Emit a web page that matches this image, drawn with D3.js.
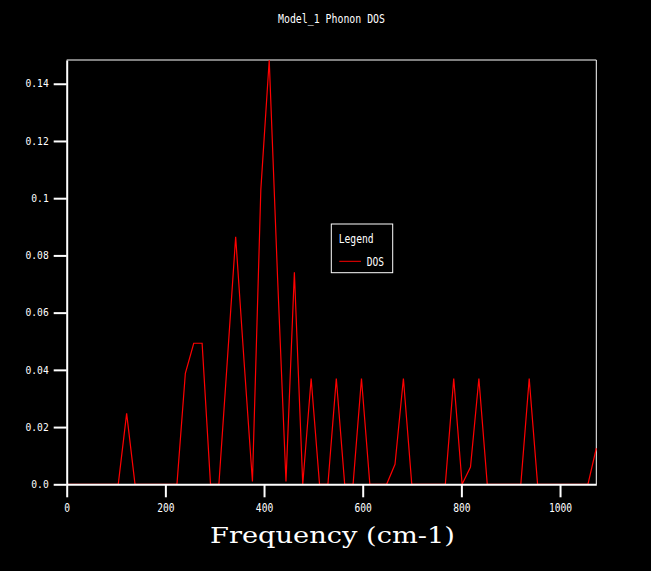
<html>
<head>
    <meta charset="utf-8">
    <style>
        body { margin:0; background:#000; }
    </style>
</head>
<body>
<script src="https://cdn.jsdelivr.net/npm/d3@7"></script>
<script>
    // frequency grid (cm-1) and DOS values
    var freq = [2.5, 19.5, 36.5, 53.5, 70.5, 87.5, 104.5, 121.5, 138.5, 155.5,
                172.5, 189.5, 206.5, 223.5, 240.5, 257.5, 274.5, 291.5, 308.5, 325.5,
                342.5, 359.5, 376.5, 393.5, 410.5, 427.5, 444.5, 461.5, 478.5, 495.5,
                512.5, 529.5, 546.5, 563.5, 580.5, 597.5, 614.5, 631.5, 648.5, 665.5,
                682.5, 699.5, 716.5, 733.5, 750.5, 767.5, 784.5, 801.5, 818.5, 835.5,
                852.5, 869.5, 886.5, 903.5, 920.5, 937.5, 954.5, 971.5, 988.5, 1005.5,
                1022.5, 1039.5, 1056.5, 1073.5];
    var dos = [0, 0, 0, 0, 0, 0, 0, 0.0248, 0, 0,
               0, 0, 0, 0, 0.0388, 0.0493, 0.0493, 0, 0, 0.043,
               0.0865, 0.043, 0.001, 0.103, 0.1483, 0.072, 0.001, 0.0741, 0, 0.037,
               0, 0, 0.037, 0, 0, 0.037, 0, 0, 0, 0.007,
               0.037, 0, 0, 0, 0, 0, 0.037, 0, 0.006, 0.037,
               0, 0, 0, 0, 0, 0.037, 0, 0, 0, 0,
               0, 0, 0, 0.0126];
    var xTicks = [0, 200, 400, 600, 800, 1000];
    var yTicks = [0, 0.02, 0.04, 0.06, 0.08, 0.1, 0.12, 0.14];
    var yTickLabels = ["0.0", "0.02", "0.04", "0.06", "0.08", "0.1", "0.12", "0.14"];

    var width = 651, height = 571;
    var pL = 66.7, pR = 596.3, pT = 60, pB = 484.3;   // plot box
    var mono = "DejaVu Sans Mono";

    var svg = d3.select("body").append("svg")
                .attr("width", width)
                .attr("height", height)
                .style("background", "#000");

    var x = d3.scaleLinear().domain([0, d3.max(freq)]).range([pL, pR]);
    var y = d3.scaleLinear().domain([0, d3.max(dos)]).range([pB, pT]);

    // top + right frame
    svg.append("path")
       .attr("d", "M" + pL + "," + pT + "H" + pR + "V" + pB)
       .attr("fill", "none")
       .attr("stroke", "#fff")
       .attr("stroke-width", 1);

    // the DOS curve
    var pts = freq.map((f, i) => [f, dos[i]]);
    svg.append("path")
       .datum(pts)
       .attr("fill", "none")
       .attr("stroke", "#f00")
       .attr("stroke-width", 1.2)
       .attr("d", d3.line().x(d => x(d[0])).y(d => y(d[1])));

    // axes
    var gx = svg.append("g")
                .attr("transform", "translate(0," + pB + ")")
                .call(d3.axisBottom(x).tickValues(xTicks).tickSize(13).tickSizeOuter(0).tickPadding(7)
                      .tickFormat(d3.format("d")));
    var gy = svg.append("g")
                .attr("transform", "translate(" + pL + ",0)")
                .call(d3.axisLeft(y).tickValues(yTicks).tickSize(13).tickSizeOuter(0).tickPadding(5)
                      .tickFormat((d, i) => yTickLabels[i]));

    [gx, gy].forEach(function(g) {
        g.select(".domain").attr("stroke", "#fff").attr("stroke-width", 2);
        g.selectAll(".tick line").attr("stroke", "#fff").attr("stroke-width", 2);
        g.selectAll(".tick text")
         .attr("fill", "#fff")
         .attr("font-family", mono)
         .attr("font-size", 10)
         .attr("lengthAdjust", "spacingAndGlyphs")
         .attr("textLength", function() { return this.textContent.length * 5.8; });
    });
    gx.selectAll(".tick text").attr("font-size", 11.5);

    // title
    svg.append("text")
       .attr("x", (pL + pR) / 2)
       .attr("y", 23.3)
       .attr("text-anchor", "middle")
       .attr("fill", "#fff")
       .attr("font-family", mono)
       .attr("font-size", 12.5)
       .attr("lengthAdjust", "spacingAndGlyphs")
       .attr("textLength", 107)
       .text("Model_1 Phonon DOS");

    // x axis title
    svg.append("text")
       .attr("x", 332.5)
       .attr("y", 543.3)
       .attr("text-anchor", "middle")
       .attr("fill", "#fff")
       .attr("font-family", "DejaVu Serif")
       .attr("font-size", 23)
       .attr("lengthAdjust", "spacingAndGlyphs")
       .attr("textLength", 245)
       .text("Frequency (cm-1)");

    // legend
    var lg = svg.append("g").attr("transform", "translate(331.3,224)");
    lg.append("rect")
      .attr("width", 61.4).attr("height", 48.7)
      .attr("fill", "#000").attr("stroke", "#fff").attr("stroke-width", 1);
    lg.append("text")
      .attr("x", 7.4).attr("y", 18.7)
      .attr("fill", "#fff").attr("font-family", mono).attr("font-size", 12.5)
      .attr("lengthAdjust", "spacingAndGlyphs").attr("textLength", 35)
      .text("Legend");
    lg.append("line")
      .attr("x1", 8).attr("x2", 29.7).attr("y1", 37.3).attr("y2", 37.3)
      .attr("stroke", "#f00").attr("stroke-width", 1);
    lg.append("text")
      .attr("x", 35.4).attr("y", 42)
      .attr("fill", "#fff").attr("font-family", mono).attr("font-size", 12.5)
      .attr("lengthAdjust", "spacingAndGlyphs").attr("textLength", 17.3)
      .text("DOS");
</script>
</body>
</html>
